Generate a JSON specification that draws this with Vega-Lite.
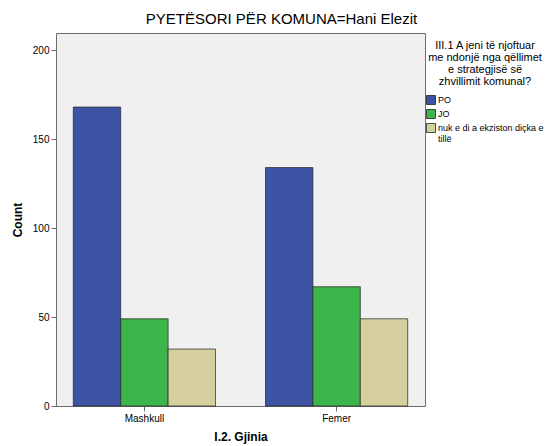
{
  "$schema": "https://vega.github.io/schema/vega-lite/v6.json",
  "autosize": {"type": "none"},
  "padding": {"left": 56, "top": 33, "right": 128, "bottom": 40},
  "width": 369,
  "height": 373,
  "background": "white",
  "title": {
    "text": "PYETËSORI PËR KOMUNA=Hani Elezit",
    "font": "Liberation Sans",
    "fontSize": 15,
    "fontWeight": "normal",
    "color": "#000000",
    "anchor": "middle",
    "dx": 41,
    "offset": 6
  },
  "config": {
    "font": "Liberation Sans",
    "view": {"fill": "#f0f0f0", "stroke": "#6b6b6b", "strokeWidth": 1}
  },
  "data": {
    "values": [
      {"gjinia": "Mashkull", "answer": "PO", "count": 168},
      {"gjinia": "Mashkull", "answer": "JO", "count": 49},
      {"gjinia": "Mashkull", "answer": "nuk e di a ekziston diçka e tillë", "count": 32},
      {"gjinia": "Femer", "answer": "PO", "count": 134},
      {"gjinia": "Femer", "answer": "JO", "count": 67},
      {"gjinia": "Femer", "answer": "nuk e di a ekziston diçka e tillë", "count": 49}
    ]
  },
  "mark": {"type": "bar", "stroke": "#222222", "strokeWidth": 0.7},
  "encoding": {
    "x": {
      "field": "gjinia",
      "type": "nominal",
      "sort": ["Mashkull", "Femer"],
      "scale": {"paddingInner": 0.26, "paddingOuter": 0.09},
      "axis": {
        "title": "I.2. Gjinia",
        "titleFontSize": 12,
        "titleFontWeight": "bold",
        "titleColor": "#000000",
        "titlePadding": 8,
        "labelAngle": 0,
        "labelFontSize": 10,
        "labelColor": "#000000",
        "labelPadding": 2,
        "tickColor": "#6b6b6b",
        "tickSize": 5,
        "domain": false
      }
    },
    "xOffset": {
      "field": "answer",
      "type": "nominal",
      "sort": ["PO", "JO", "nuk e di a ekziston diçka e tillë"],
      "scale": {"paddingInner": 0, "paddingOuter": 0}
    },
    "y": {
      "field": "count",
      "type": "quantitative",
      "scale": {"domain": [0, 209.6], "nice": false},
      "axis": {
        "title": "Count",
        "titleFontSize": 12,
        "titleFontWeight": "bold",
        "titleColor": "#000000",
        "titlePadding": 8,
        "values": [0, 50, 100, 150, 200],
        "grid": false,
        "labelFontSize": 10,
        "labelColor": "#000000",
        "labelPadding": 2,
        "tickColor": "#6b6b6b",
        "tickSize": 5,
        "domain": false
      }
    },
    "color": {
      "field": "answer",
      "type": "nominal",
      "sort": ["PO", "JO", "nuk e di a ekziston diçka e tillë"],
      "scale": {
        "domain": ["PO", "JO", "nuk e di a ekziston diçka e tillë"],
        "range": ["#3e53a4", "#3cb54a", "#d5d09e"]
      },
      "legend": {
        "title": ["III.1 A jeni të njoftuar", "me ndonjë nga qëllimet", "e strategjisë së", "zhvillimit komunal?"],
        "orient": "none",
        "legendX": 370,
        "legendY": 7,
        "titleFontSize": 11,
        "titleFontWeight": "normal",
        "titleColor": "#000000",
        "titleAlign": "center",
        "titleAnchor": "middle",
        "titleLineHeight": 12,
        "titlePadding": 8,
        "labelFontSize": 9,
        "labelColor": "#000000",
        "labelLimit": 200,
        "labelOffset": 2,
        "labelExpr": "datum.label == 'nuk e di a ekziston diçka e tillë' ? ['nuk e di a ekziston diçka e', 'tillë'] : datum.label",
        "symbolType": "square",
        "symbolSize": 81,
        "symbolStrokeColor": "#222222",
        "symbolStrokeWidth": 0.8,
        "symbolOpacity": 1,
        "rowPadding": 0
      }
    }
  }
}
